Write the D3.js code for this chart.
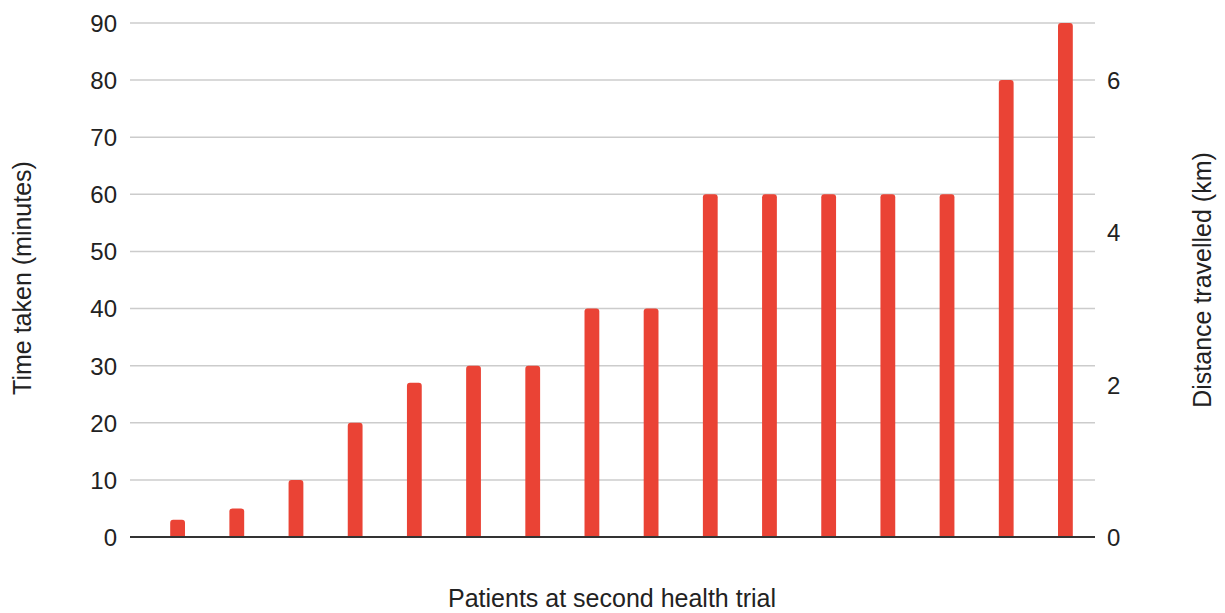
<!DOCTYPE html>
<html>
<head>
<meta charset="utf-8">
<script src="https://cdn.jsdelivr.net/npm/d3@7"></script>
<style>
  body { margin: 0; background: #fff; }
  text { font-family: "Liberation Sans", Arial, sans-serif; fill: #222; }
</style>
</head>
<body>
<svg id="chart" width="1225" height="613"></svg>
<script>
// Chart data
const patients = d3.range(1, 17).map(String);
const timeTaken = [3, 5, 10, 20, 27, 30, 30, 40, 40, 60, 60, 60, 60, 60, 80, 90];
const leftTicks = [0, 10, 20, 30, 40, 50, 60, 70, 80, 90];
const rightTicks = [0, 2, 4, 6];

const svg = d3.select("#chart");
const plotTop = 23, plotBottom = 537, plotLeft = 130, plotRight = 1095;

// Scales
const x = d3.scaleBand().domain(patients).range([148, 1095]).paddingInner(0.75).paddingOuter(0.375);
const y = d3.scaleLinear().domain([0, 90]).range([plotBottom, plotTop]);
const yKm = d3.scaleLinear().domain([0, 6.75]).range([plotBottom, plotTop]);

// Gridlines
svg.append("g").selectAll("line")
    .data(leftTicks.filter(d => d > 0))
    .enter().append("line")
    .attr("x1", plotLeft).attr("x2", plotRight)
    .attr("y1", d => y(d)).attr("y2", d => y(d))
    .attr("stroke", "#cccccc").attr("stroke-width", 1.5);

// Bars with rounded tops
const r = 3;
svg.append("g").selectAll("path")
    .data(timeTaken)
    .enter().append("path")
    .attr("fill", "#ea4335")
    .attr("d", (d, i) => {
        const x0 = x(patients[i]), w = x.bandwidth(), y0 = y(d), yb = y(0);
        return `M${x0},${yb} L${x0},${y0 + r} Q${x0},${y0} ${x0 + r},${y0}` +
               ` L${x0 + w - r},${y0} Q${x0 + w},${y0} ${x0 + w},${y0 + r} L${x0 + w},${yb} Z`;
    });

// Baseline
svg.append("line")
    .attr("x1", plotLeft).attr("x2", plotRight)
    .attr("y1", y(0)).attr("y2", y(0))
    .attr("stroke", "#333").attr("stroke-width", 2);

// Left axis
const yAxis = d3.axisLeft(y).tickValues(leftTicks).tickSize(0).tickPadding(0);
svg.append("g").attr("transform", "translate(117,0)").call(yAxis)
    .call(g => g.select(".domain").remove())
    .selectAll("text").style("font-size", "24px").attr("dy", "0.35em");

// Right axis
const yAxisR = d3.axisRight(yKm).tickValues(rightTicks).tickFormat(d3.format("d")).tickSize(0).tickPadding(0);
svg.append("g").attr("transform", "translate(1107,0)").call(yAxisR)
    .call(g => g.select(".domain").remove())
    .selectAll("text").style("font-size", "24px").attr("dy", "0.35em");

// Axis titles
svg.append("text")
    .attr("transform", "translate(31,278) rotate(-90)")
    .attr("text-anchor", "middle")
    .style("font-size", "25px")
    .text("Time taken (minutes)");

svg.append("text")
    .attr("transform", "translate(1211,280) rotate(-90)")
    .attr("text-anchor", "middle")
    .style("font-size", "25px")
    .text("Distance travelled (km)");

svg.append("text")
    .attr("x", 612).attr("y", 607)
    .attr("text-anchor", "middle")
    .style("font-size", "25px")
    .text("Patients at second health trial");
</script>
</body>
</html>
